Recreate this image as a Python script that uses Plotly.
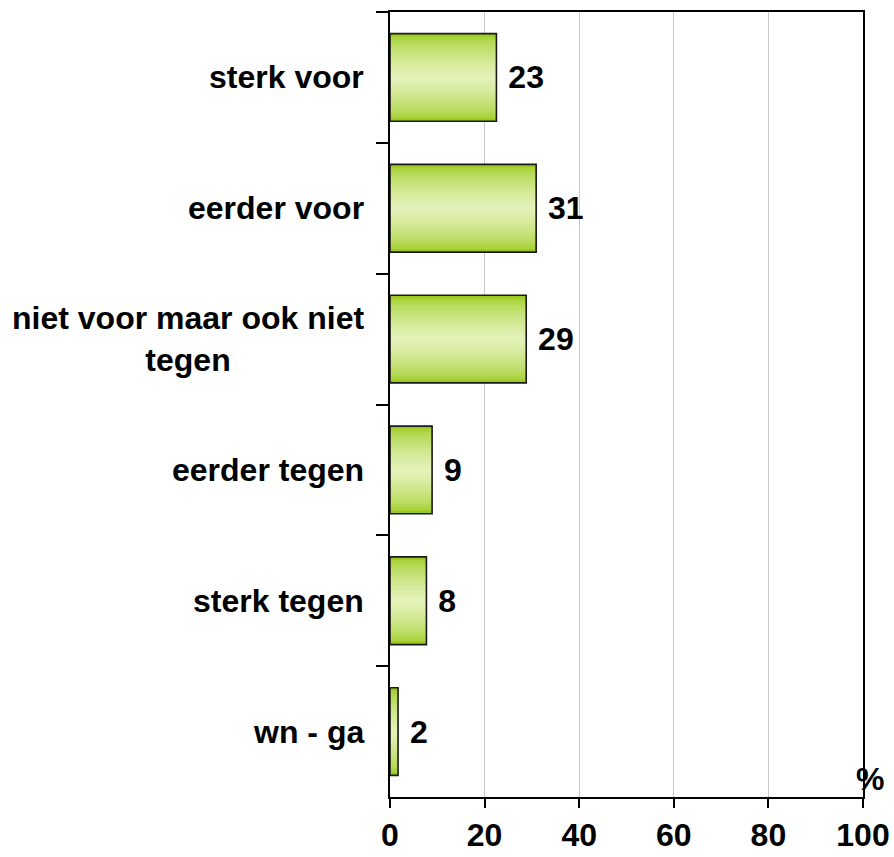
import plotly.graph_objects as go

categories = ["sterk voor", "eerder voor", "niet voor maar ook niet<br>tegen",
              "eerder tegen", "sterk tegen", "wn - ga"]
values = [22.5, 30.9, 28.8, 8.9, 7.7, 1.7]
labels = ["23", "31", "29", "9", "8", "2"]
x_ticks = [0, 20, 40, 60, 80, 100]

FONT = "Arial, Liberation Sans, sans-serif"
BAR_W = 0.67
edge = (155, 203, 30)
center = (227, 242, 184)
N = 14

fig = go.Figure()
for i in range(N):
    t = i / (N - 1)
    t = t ** 0.6
    c = tuple(round(edge[k] + (center[k] - edge[k]) * t) for k in range(3))
    w = BAR_W * (1 - i / N)
    fig.add_trace(go.Bar(
        x=values, y=categories, orientation="h",
        width=w,
        marker=dict(color="rgb(%d,%d,%d)" % c, line=dict(width=0)),
        hoverinfo="skip", showlegend=False,
    ))

# outline + labels on top
fig.add_trace(go.Bar(
    x=values, y=categories, orientation="h", width=BAR_W,
    marker=dict(color="rgba(0,0,0,0)", line=dict(color="#1a1a1a", width=1.6)),
    text=labels, texttemplate=" %{text}", textposition="outside",
    textfont=dict(family=FONT, size=32, color="black", weight="bold"),
    cliponaxis=False, hoverinfo="skip", showlegend=False,
))

for cat in categories:
    fig.add_annotation(
        x=0, xref="paper", y=cat, yref="y", xanchor="right", yanchor="middle",
        xshift=-24, text=cat, showarrow=False, align="center",
        font=dict(family=FONT, size=32, color="black", weight="bold"),
    )

fig.add_annotation(
    x=1, xref="paper", y=0, yref="paper", xanchor="center", yanchor="bottom",
    xshift=7, yshift=-2, text="%", showarrow=False,
    font=dict(family=FONT, size=32, color="black", weight="bold"),
)

fig.update_layout(
    width=894, height=857,
    margin=dict(l=390, r=31, t=12, b=60, autoexpand=False),
    paper_bgcolor="white", plot_bgcolor="white",
    barmode="overlay", bargap=0.33,
    font=dict(family=FONT, size=32, color="black"),
)
fig.update_xaxes(
    range=[0, 100], tickvals=x_ticks, ticktext=[str(v) for v in x_ticks],
    showgrid=True, gridcolor="#c8c8c8", gridwidth=1,
    showline=True, linecolor="black", linewidth=2, mirror=True,
    ticks="outside", ticklen=9, tickwidth=2, tickcolor="black",
    tickfont=dict(family=FONT, size=32, color="black", weight="bold"),
    zeroline=False, automargin=False,
)
fig.update_yaxes(
    type="category", autorange="reversed", tickson="boundaries",
    showticklabels=False, ticks="outside", ticklen=12, tickwidth=1.5, tickcolor="black",
    showline=True, linecolor="black", linewidth=2, mirror=True,
    showgrid=False, zeroline=False, automargin=False,
)

fig.write_html(
    "out.html",
    config={"displayModeBar": False},
    post_script="document.body.style.margin='0';document.body.style.overflow='hidden';",
)
